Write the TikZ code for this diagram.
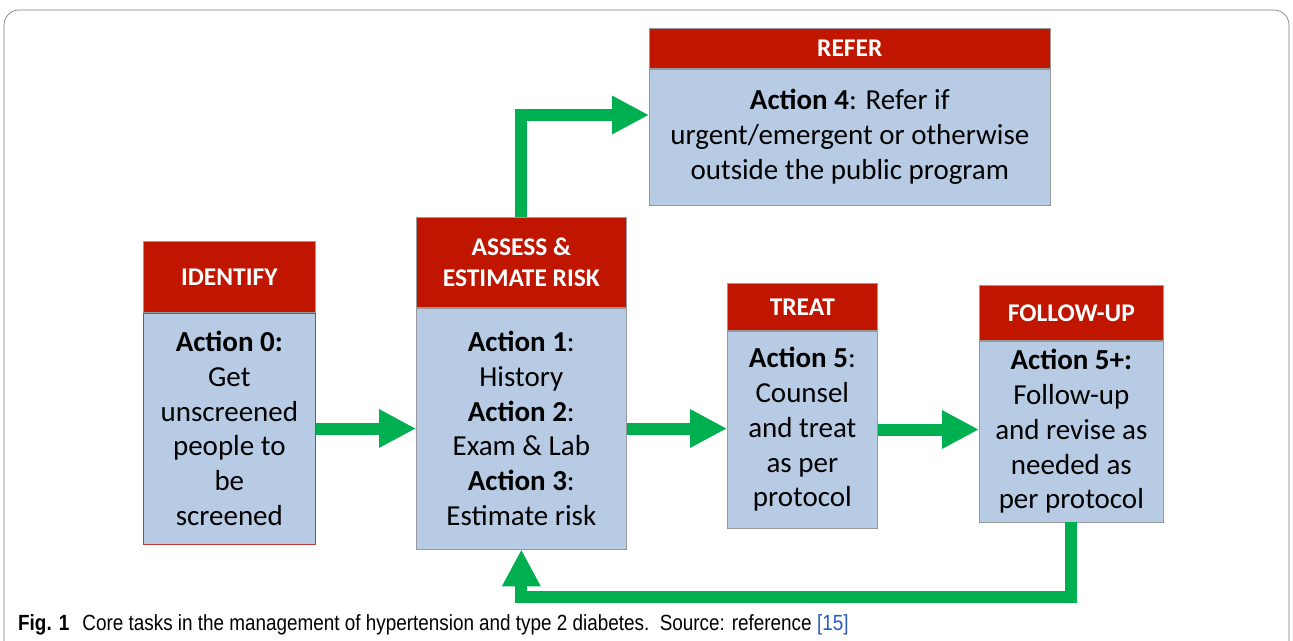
\documentclass[tikz,border=0pt]{standalone}
\usepackage{fontspec}
\setmainfont{Carlito}
\newfontfamily\capfont[FakeStretch=0.86]{Liberation Sans}
\usetikzlibrary{positioning, arrows.meta}

\definecolor{hdrred}{RGB}{192,22,0}
\definecolor{boxblue}{RGB}{183,204,228}
\definecolor{flowgreen}{RGB}{0,176,80}
\definecolor{linkblue}{RGB}{40,90,200}

\tikzset{
  hdr/.style={fill=hdrred, draw=gray!80, text=white, align=center, inner sep=0pt,
    font=\bfseries\fontsize{14.5}{17.5}\selectfont},
  bodybox/.style={fill=boxblue, draw=gray!80, align=center, inner sep=0pt,
    font=\fontsize{16.5}{19.8}\selectfont},
  flow/.style={draw=flowgreen, line width=0.24cm, ->}
}

\begin{document}
\begin{tikzpicture}[x=0.02cm, y=-0.02cm, node distance=0pt, >={Triangle[length=0.74cm, width=0.72cm]}]
  \useasboundingbox (0,0) rectangle (1293,641);
  % frame
  \draw[gray, rounded corners=0.3cm] (4,10) rectangle (1289,720);

  % the boxes
  \node[hdr, anchor=north west, minimum width=3.44cm, minimum height=1.42cm] (idH) at (143,241) {IDENTIFY};
  \node[bodybox, below=of idH, draw=red!55!gray, minimum width=3.44cm, minimum height=4.62cm] (idB)
    {\textbf{Action 0:}\\Get\\unscreened\\people to\\be\\screened};

  \node[hdr, anchor=north west, minimum width=4.2cm, minimum height=1.8cm] (asH) at (416,217) {ASSESS \&\\ESTIMATE RISK};
  \node[bodybox, below=of asH, minimum width=4.2cm, minimum height=4.82cm] (asB)
    {\textbf{Action 1}:\\History\\\textbf{Action 2}:\\Exam \& Lab\\\textbf{Action 3}:\\Estimate risk};

  \node[hdr, anchor=north west, minimum width=8.02cm, minimum height=0.8cm] (refH) at (649,28) {REFER};
  \node[bodybox, below=of refH, minimum width=8.02cm, minimum height=2.72cm] (refB)
    {\textbf{Action 4}: Refer if\\urgent/emergent or otherwise\\outside the public program};

  \node[hdr, anchor=north west, minimum width=3.0cm, minimum height=0.94cm] (trH) at (727,283) {TREAT};
  \node[bodybox, below=of trH, minimum width=3.0cm, minimum height=3.94cm] (trB)
    {\textbf{Action 5}:\\Counsel\\and treat\\as per\\protocol};

  \node[hdr, anchor=north west, minimum width=3.68cm, minimum height=1.1cm] (fuH) at (979,285) {FOLLOW-UP};
  \node[bodybox, below=of fuH, minimum width=3.68cm, minimum height=3.62cm] (fuB)
    {\textbf{Action 5+:}\\Follow-up\\and revise as\\needed as\\per protocol};

  \coordinate (refIn) at (649,115);

  % arrows
  \draw[flow] (idB.east) -- (idB.east -| asB.west);
  \draw[flow] (asB.east) -- (asB.east -| trB.west);
  \draw[flow] (trB.east) -- (trB.east -| fuB.west);
  \draw[flow] (asH.north) |- (refIn);
  \draw[flow] (fuB.south) -- ++(0,75) -| (asB.south);

  % caption
  \node[anchor=base west, font=\capfont\fontsize{12.5}{14}\selectfont] (cap) at (12,630)
    {\textbf{Fig. 1}\hspace{0.6em}Core tasks in the management of hypertension and type 2 diabetes.\ \ Source: reference {\color{linkblue}[15]}};
\end{tikzpicture}
\end{document}
